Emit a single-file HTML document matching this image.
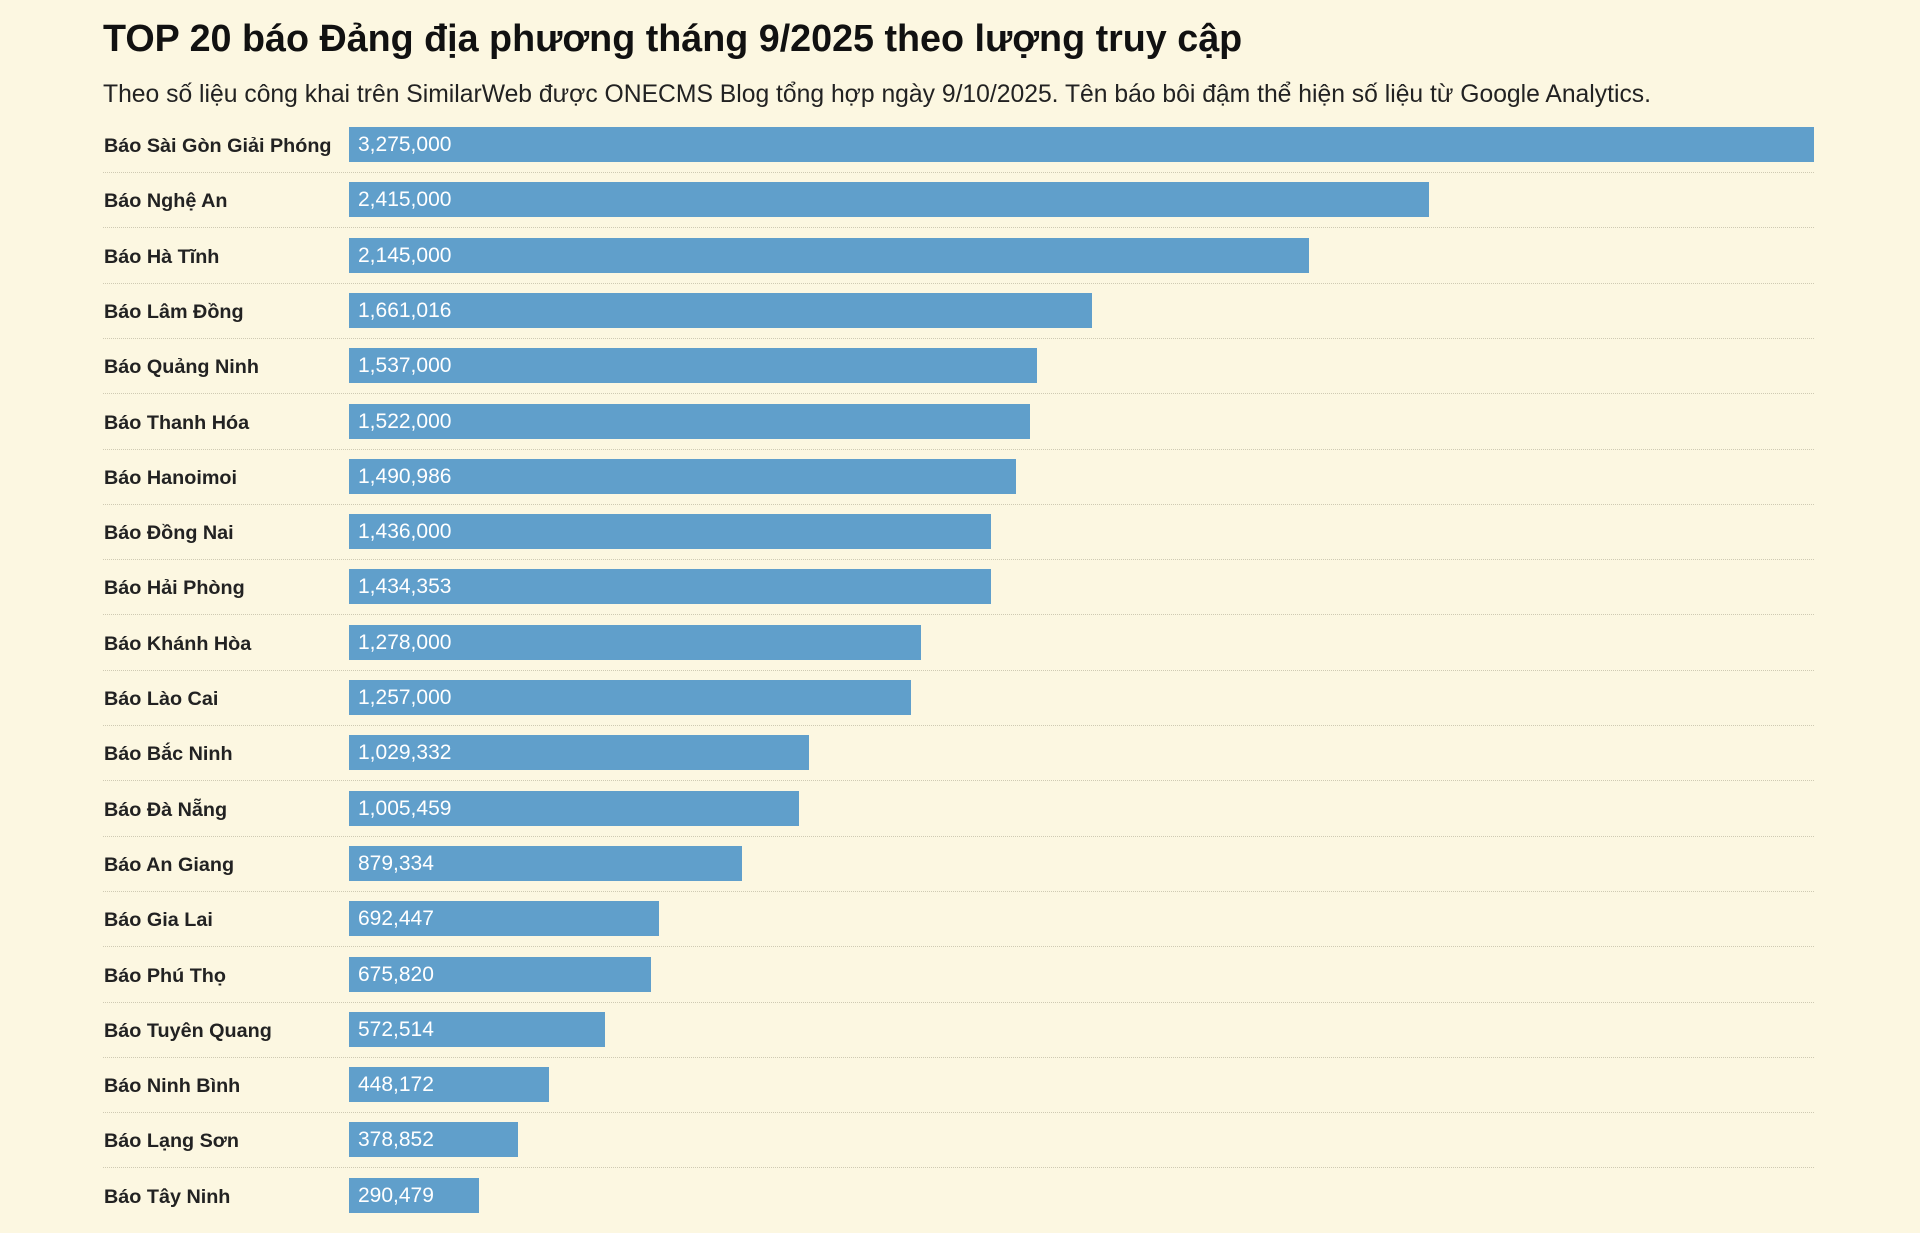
<!DOCTYPE html>
<html><head><meta charset="utf-8"><style>
body{margin:0;width:1920px;height:1221px;background:#fcf7e1;font-family:"Liberation Sans","DejaVu Sans",sans-serif;position:relative;overflow:hidden}
h1{position:absolute;left:103px;top:17px;margin:0;font-size:37.7px;font-weight:bold;color:#111}
.sub{position:absolute;left:103px;top:81px;font-size:24.7px;color:#222}
.row{position:absolute;left:103px;width:1711px;height:55px}
.lab{position:absolute;left:1px;top:2px;height:35px;line-height:35px;font-size:19.8px;font-weight:bold;color:#222}
.bar{position:absolute;left:246px;top:0;height:35px;background:#609fcb;color:#fff;font-size:21px;line-height:36px;padding-left:9px;box-sizing:border-box}
.sep{position:absolute;left:0;right:0;top:45px;border-top:1px dotted #cfcab3}
</style></head><body>
<h1>TOP 20 báo Đảng địa phương tháng 9/2025 theo lượng truy cập</h1>
<div class="sub">Theo số liệu công khai trên SimilarWeb được ONECMS Blog tổng hợp ngày 9/10/2025. Tên báo bôi đậm thể hiện số liệu từ Google Analytics.</div>
<div id="c"></div>
<script>
var d=[["Báo Sài Gòn Giải Phóng",3275000],["Báo Nghệ An",2415000],["Báo Hà Tĩnh",2145000],["Báo Lâm Đồng",1661016],["Báo Quảng Ninh",1537000],["Báo Thanh Hóa",1522000],["Báo Hanoimoi",1490986],["Báo Đồng Nai",1436000],["Báo Hải Phòng",1434353],["Báo Khánh Hòa",1278000],["Báo Lào Cai",1257000],["Báo Bắc Ninh",1029332],["Báo Đà Nẵng",1005459],["Báo An Giang",879334],["Báo Gia Lai",692447],["Báo Phú Thọ",675820],["Báo Tuyên Quang",572514],["Báo Ninh Bình",448172],["Báo Lạng Sơn",378852],["Báo Tây Ninh",290479]];
var h="";
d.forEach(function(r,i){var w=r[1]/3275000*1465;
h+='<div class="row" style="top:'+(127+i*55.3)+'px"><div class="lab">'+r[0]+'</div><div class="bar" style="width:'+w+'px">'+r[1].toLocaleString("en-US")+'</div>'+(i<19?'<div class="sep"></div>':'')+'</div>';});
document.getElementById("c").innerHTML=h;
</script>
</body></html>
